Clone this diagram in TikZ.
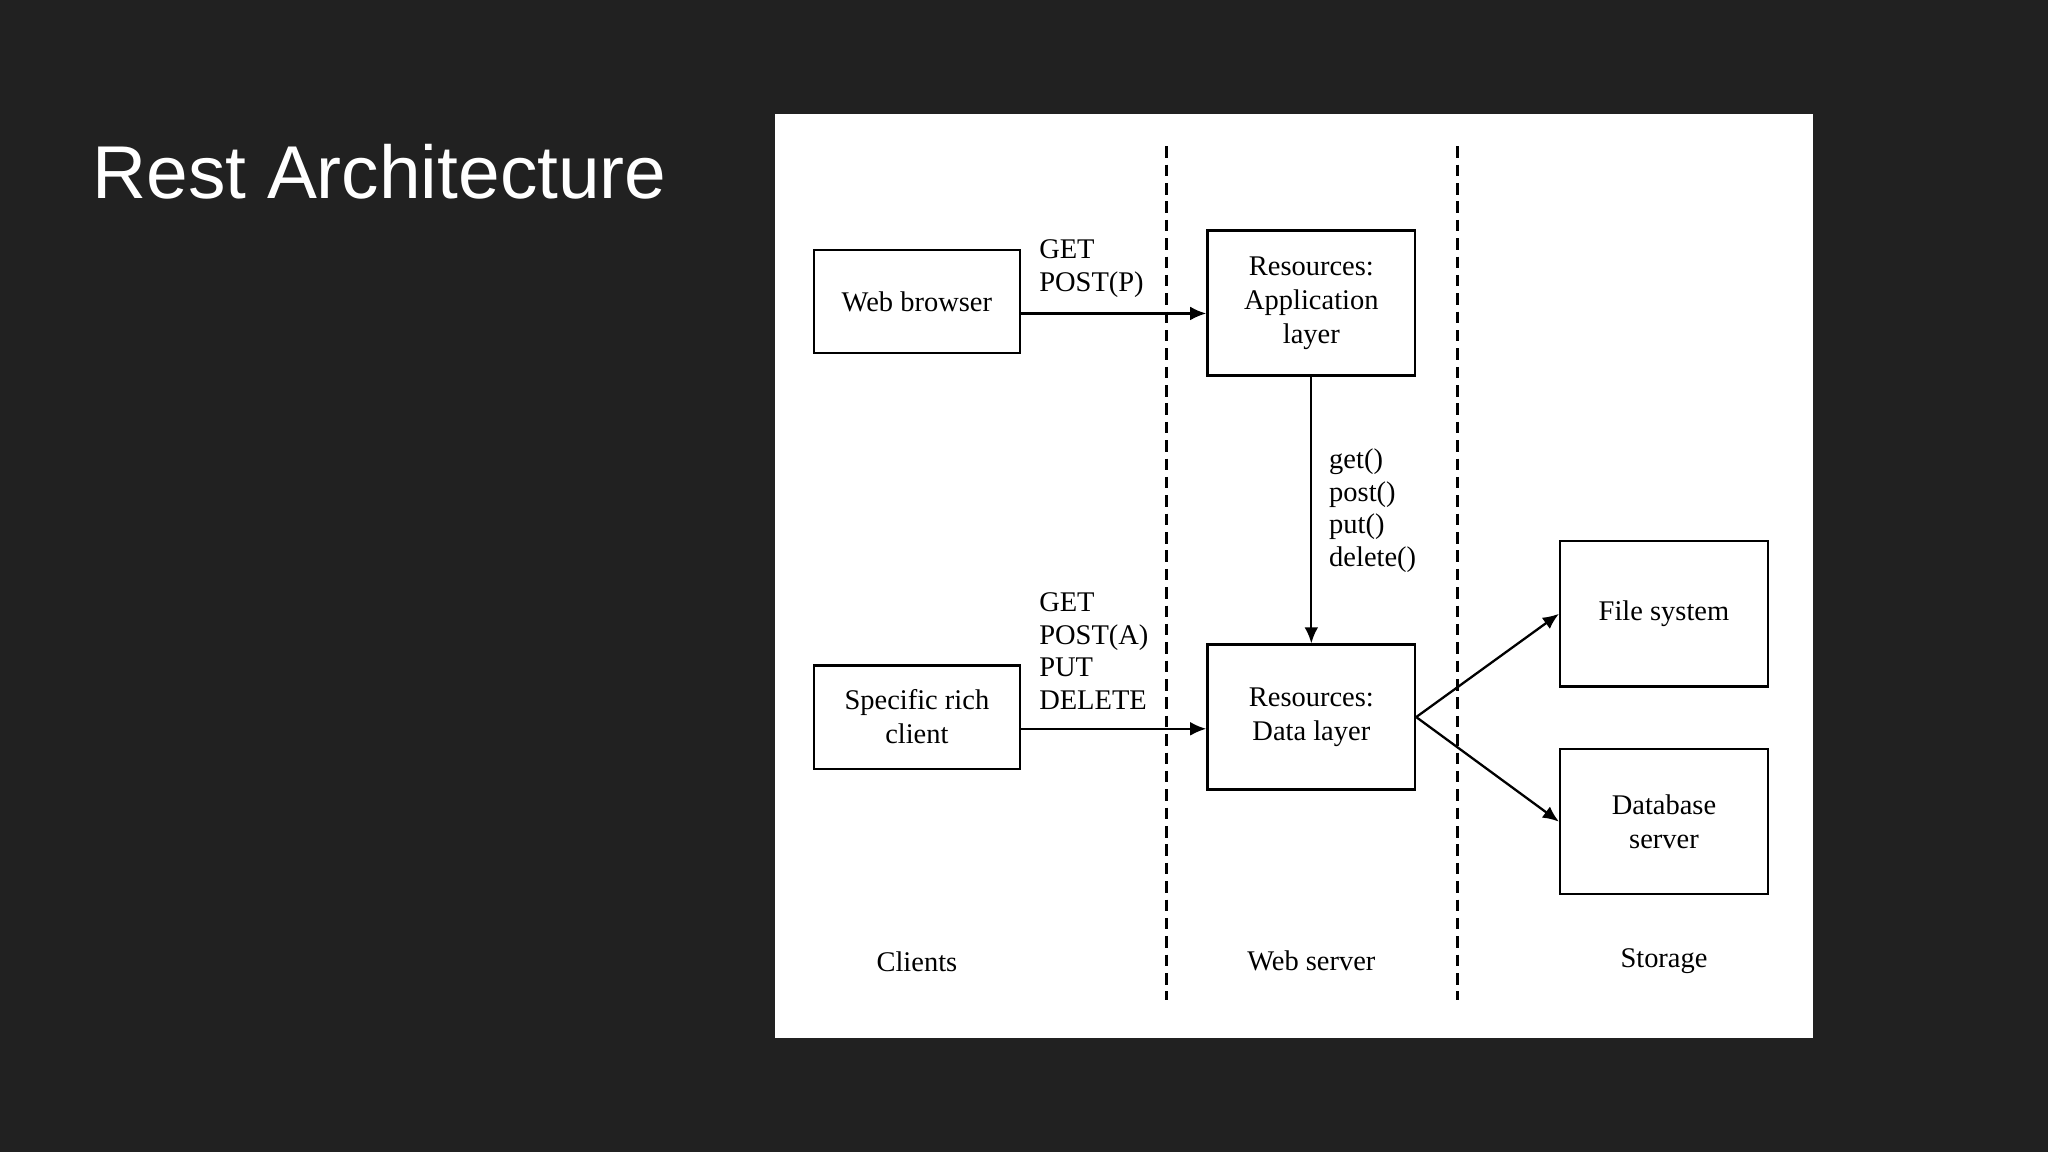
\documentclass[tikz,border=0pt]{standalone}
\usepackage{fontspec}
\setmainfont{Liberation Serif}
\newfontfamily\titlefont{Liberation Sans}
\usetikzlibrary{positioning,arrows.meta,calc}

\tikzset{
  box/.style={draw, line width=0.5pt, minimum width=1.58cm, minimum height=0.79cm, align=center, inner sep=1pt, font=\fontsize{6.2}{7.4}\selectfont},
  lbl/.style={align=left, inner sep=0pt, anchor=north west, font=\fontsize{6.2}{7.1}\selectfont},
  col/.style={inner sep=0pt, font=\fontsize{6.2}{7.4}\selectfont},
  flow/.style={-{Latex[length=3.5pt,width=3pt]}, line width=0.5pt},
  sep/.style={dashed, line width=0.5pt, dash pattern=on 2.5pt off 1.5pt}
}

\begin{document}
\begin{tikzpicture}[x=0.01cm,y=-0.01cm]
    % Slide background and panel
    \fill[fill={rgb,255:red,33;green,33;blue,33}] (0,0) rectangle (1568,882);
    \fill[white] (593,87) rectangle (1388,795);
    \node[anchor=base west, inner sep=0pt, text=white, font=\titlefont\fontsize{16.3}{18}\selectfont] (title) at (70,152) {Rest Architecture};

    % Tier separators
    \draw[sep] (893,112) -- (893,766);
    \draw[sep] (1116,112) -- (1116,766);

    % Boxes
    \node[box, minimum width=1.58cm, minimum height=0.79cm] (browser) at (702,231) {Web browser};
    \node[box, minimum width=1.58cm, minimum height=0.79cm] (client) at (702,549) {Specific rich\\client};
    \node[box, minimum width=1.59cm, minimum height=1.11cm] (applayer) at (1004,232) {Resources:\\Application\\layer};
    \node[box, minimum width=1.59cm, minimum height=1.11cm] (datalayer) at (1004,549) {Resources:\\Data layer};
    \node[box, minimum width=1.59cm, minimum height=1.11cm] (filesys) at (1274,470) {File system};
    \node[box, minimum width=1.59cm, minimum height=1.11cm] (dbserver) at (1274,629) {Database\\server};

    % Connectors
    \draw[flow] (browser.east |- 0,240) -- (applayer.west |- 0,240);
    \draw[flow] (client.east |- 0,558) -- (datalayer.west |- 0,558);
    \draw[flow] (applayer) -- (datalayer);
    \coordinate (dataup) at ($(datalayer.east)+(0,-0.08)$);
    \coordinate (datadown) at ($(datalayer.east)+(0,0.12)$);
    \coordinate (fsin) at ($(filesys.west)+(0,-0.05)$);
    \coordinate (dbin) at ($(dbserver.west)+(0,0.08)$);
    \draw[flow] (dataup) -- (fsin);
    \draw[flow] (datadown) -- (dbin);

    % Method labels
    \node[lbl] (httpP) at (795,183) {GET\\POST(P)};
    \node[lbl] (httpA) at (795,453) {GET\\POST(A)\\PUT\\DELETE};
    \node[lbl] (calls) at (1017,343) {get()\\post()\\put()\\delete()};

    % Tier names
    \node[col] (clients) at (702,736) {Clients};
    \node[col] (webserver) at (1004,736) {Web server};
    \node[col] (storage) at (1274,736) {Storage};
\end{tikzpicture}
\end{document}
